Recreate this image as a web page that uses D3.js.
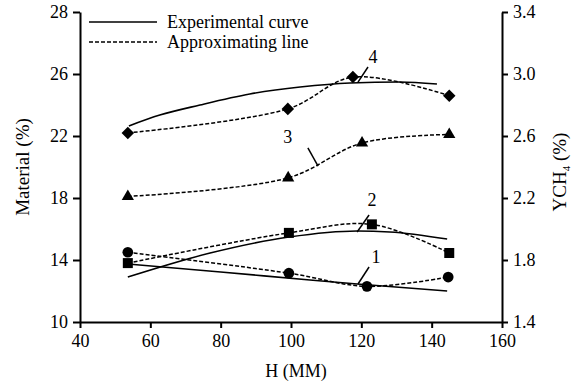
<!DOCTYPE html>
<html><head><meta charset="utf-8">
<script src="https://cdn.jsdelivr.net/npm/d3@7"></script>
<style>
html,body{margin:0;padding:0;background:#fff;}
svg{display:block;font-family:"Liberation Serif","Times New Roman",serif;}
</style></head>
<body>
<svg id="c" width="574" height="385"></svg>
<script>
// ---- data ----
const xTicks = [40, 60, 80, 100, 120, 140, 160];
const yLeftTicks = [10, 14, 18, 22, 26, 30];
const yLeftTickLabels = ["10", "14", "18", "22", "26", "28"];
const yRightTicks = [1.4, 1.8, 2.2, 2.6, 3.0, 3.4];

// approximating (dashed) series with markers
const s4H = [53.6, 99.1, 117.6, 145.0];
const s4V = [22.2, 23.75, 25.8, 24.6];
const s3H = [53.6, 99.2, 120.2, 145.0];
const s3V = [18.1, 19.3, 21.55, 22.1];
const s2H = [53.6, 99.4, 123.0, 145.0];
const s2V = [13.8, 15.75, 16.3, 14.45];
const s1H = [53.6, 99.4, 121.6, 144.7];
const s1V = [14.5, 13.15, 12.3, 12.9];

// experimental (solid) curves
const e4H = [53.9, 62.7, 74.1, 88.3, 102.6, 116.8, 131.0, 141.5];
const e4V = [22.65, 23.35, 24.0, 24.71, 25.16, 25.42, 25.48, 25.35];
const e2H = [53.6, 77.0, 99.4, 118.8, 128.1, 144.4];
const e2V = [12.9, 14.45, 15.48, 15.87, 15.81, 15.35];
const e1H = [53.6, 80.0, 105.4, 118.8, 144.4];
const e1V = [13.74, 13.23, 12.71, 12.45, 12.0];

// curve labels with leader lines (data units)
const labelNames = ["4", "3", "2", "1"];
const labelH = [123.3, 99.1, 123.0, 124.2];
const labelV = [27.1, 21.94, 17.87, 14.19];
const leaderH1 = [119.05, 104.8, 118.8, 119.05];
const leaderV1 = [25.48, 21.23, 15.81, 12.45];
const leaderH2 = [121.9, 107.7, 122.2, 122.2];
const leaderV2 = [26.45, 20.06, 16.9, 13.55];

const legendLabels = ["Experimental curve", "Approximating line"];

// ---- drawing ----
const svg = d3.select("#c");
const m = {l: 80, r: 72, t: 12, b: 63};
const W = 574, H = 385;
const x = d3.scaleLinear().domain([40, 160]).range([m.l, W - m.r]);
const y = d3.scaleLinear().domain([10, 30]).range([H - m.b, m.t]);
const y2 = d3.scaleLinear().domain([1.4, 3.4]).range([H - m.b, m.t]);

const fs = 18;

function styleAxis(g) {
  g.select(".domain").attr("stroke", "#000").attr("stroke-width", 2);
  g.selectAll(".tick line").attr("stroke", "#000").attr("stroke-width", 2);
  g.selectAll(".tick text").attr("fill", "#000")
    .style("font-family", '"Liberation Serif","Times New Roman",serif')
    .style("font-size", fs + "px");
}

svg.append("g").attr("transform", `translate(0,${H - m.b})`)
  .call(d3.axisBottom(x).tickValues(xTicks).tickSize(6).tickSizeOuter(0).tickPadding(6).tickFormat(d3.format("d")))
  .call(styleAxis);
svg.append("g").attr("transform", `translate(${m.l},0)`)
  .call(d3.axisLeft(y).tickValues(yLeftTicks).tickSize(7).tickSizeOuter(0).tickPadding(5)
    .tickFormat((d, i) => yLeftTickLabels[i]))
  .call(styleAxis);
svg.append("g").attr("transform", `translate(${W - m.r},0)`)
  .call(d3.axisRight(y2).tickValues(yRightTicks).tickSize(6).tickSizeOuter(0).tickPadding(5).tickFormat(d3.format(".1f")))
  .call(styleAxis);

// axis titles
svg.append("text").attr("x", (x(40) + x(160)) / 2 + 5).attr("y", 377)
  .attr("text-anchor", "middle").style("font-size", fs + "px").text("H (MM)");
svg.append("text").attr("transform", `translate(29,${(y(10) + y(30)) / 2}) rotate(-90)`)
  .attr("text-anchor", "middle").style("font-size", "19px").text("Material (%)");
const rt = svg.append("text").attr("transform", `translate(566,${(y(10) + y(30)) / 2 + 5}) rotate(-90)`)
  .attr("text-anchor", "middle").style("font-size", "19px");
rt.append("tspan").text("YCH");
rt.append("tspan").attr("dy", 4).style("font-size", "11px").text("4");
rt.append("tspan").attr("dy", -4).text(" (%)");

// lines
const zip = (hs, vs) => hs.map((h, i) => [h, vs[i]]);
const solid = d3.line().x(d => x(d[0])).y(d => y(d[1])).curve(d3.curveMonotoneX);
const dashed = d3.line().x(d => x(d[0])).y(d => y(d[1])).curve(d3.curveCatmullRom.alpha(0.5));

[[e4H, e4V], [e2H, e2V], [e1H, e1V]].forEach(([h, v]) => {
  svg.append("path").attr("d", solid(zip(h, v))).attr("fill", "none")
    .attr("stroke", "#000").attr("stroke-width", 1.6);
});
const series = [[s4H, s4V, d3.symbolDiamond2, 100], [s3H, s3V, d3.symbolTriangle, 65],
                [s2H, s2V, d3.symbolSquare, 100], [s1H, s1V, d3.symbolCircle, 90]];
series.forEach(([h, v]) => {
  svg.append("path").attr("d", dashed(zip(h, v))).attr("fill", "none")
    .attr("stroke", "#000").attr("stroke-width", 1.5).attr("stroke-dasharray", "4,2");
});
series.forEach(([h, v, sym, sz]) => {
  svg.append("g").selectAll("path").data(zip(h, v)).join("path")
    .attr("transform", d => `translate(${x(d[0])},${y(d[1])})`)
    .attr("d", d3.symbol().type(sym).size(sz)).attr("fill", "#000");
});

// labels + leader lines
labelNames.forEach((t, i) => {
  svg.append("line").attr("x1", x(leaderH1[i])).attr("y1", y(leaderV1[i]))
    .attr("x2", x(leaderH2[i])).attr("y2", y(leaderV2[i])).attr("stroke", "#000").attr("stroke-width", 1.5);
  svg.append("text").attr("x", x(labelH[i])).attr("y", y(labelV[i])).attr("dy", "0.35em")
    .attr("text-anchor", "middle").style("font-size", fs + "px").text(t);
});

// legend
const lg = svg.append("g");
legendLabels.forEach((t, i) => {
  const yy = 22 + i * 20;
  lg.append("line").attr("x1", 89).attr("x2", 157).attr("y1", yy).attr("y2", yy)
    .attr("stroke", "#000").attr("stroke-width", 1.6).attr("stroke-dasharray", i ? "4,2" : null);
  lg.append("text").attr("x", 167).attr("y", yy).attr("dy", "0.35em").style("font-size", fs + "px").text(t);
});
</script>
</body></html>
